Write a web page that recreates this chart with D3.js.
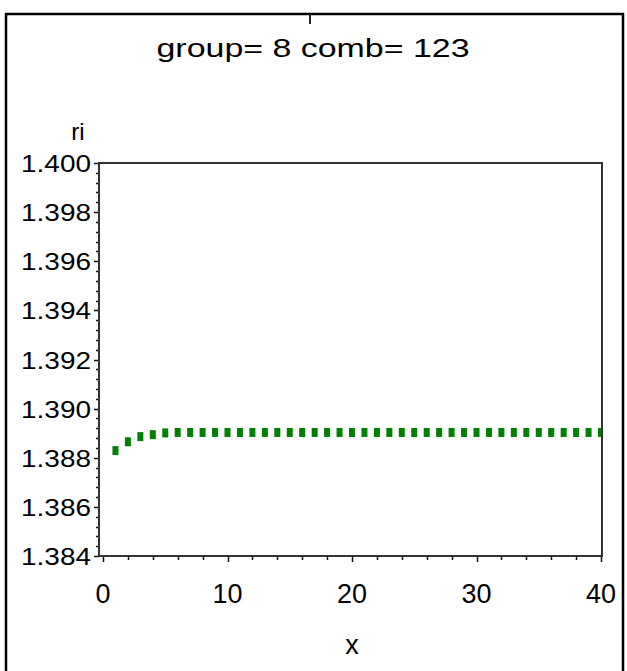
<!DOCTYPE html>
<html>
<head>
<meta charset="utf-8">
<script src="https://cdn.jsdelivr.net/npm/d3@7"></script>
<style>
  html, body { margin: 0; padding: 0; background: #fff; }
  svg { display: block; }
  text { font-family: "Liberation Sans", Arial, sans-serif; fill: #000; }
</style>
</head>
<body>
<svg id="chart" width="627" height="671"></svg>
<script>
// Series: ri against x for group 8, comb 123
const xValues = [1,2,3,4,5,6,7,8,9,10,11,12,13,14,15,16,17,18,19,20,
                 21,22,23,24,25,26,27,28,29,30,31,32,33,34,35,36,37,38,39,40];
const riValues = [1.38829,1.38865,1.38886,1.38894,1.38901,1.38903,1.38903,1.38903,1.38903,1.38903,
                  1.38903,1.38903,1.38903,1.38903,1.38903,1.38903,1.38903,1.38903,1.38903,1.38903,
                  1.38903,1.38903,1.38903,1.38903,1.38903,1.38903,1.38903,1.38903,1.38903,1.38903,
                  1.38903,1.38903,1.38903,1.38903,1.38903,1.38903,1.38903,1.38903,1.38903,1.38903];
const xTicks = [0, 10, 20, 30, 40];
const yTicks = [1.384, 1.386, 1.388, 1.390, 1.392, 1.394, 1.396, 1.398, 1.400];
const titleText = "group= 8  comb= 123";
const xLabel = "x";
const yLabel = "ri";

const svg = d3.select("#chart");

// Outer page frame
svg.append("path")
  .attr("d", "M6,671 V14 H623 V671")
  .attr("fill", "none").attr("stroke", "#000").attr("stroke-width", 2.5);
svg.append("line")
  .attr("x1", 310).attr("x2", 310).attr("y1", 14).attr("y2", 24)
  .attr("stroke", "#222").attr("stroke-width", 2);

// Plot region
const frame = { left: 99, right: 602, top: 163, bottom: 556 };
const x = d3.scaleLinear().domain([0, 40]).range([103, 601]);
const y = d3.scaleLinear().domain([1.384, 1.400]).range([frame.bottom, frame.top]);

// Title and axis labels
svg.append("text").attr("x", 313).attr("y", 57).attr("text-anchor", "middle")
  .attr("font-size", 25).attr("textLength", 313).attr("lengthAdjust", "spacingAndGlyphs")
  .text(titleText);
svg.append("text").attr("x", 78).attr("y", 140).attr("text-anchor", "middle")
  .attr("font-size", 24).text(yLabel);
svg.append("text").attr("x", 352).attr("y", 654).attr("text-anchor", "middle")
  .attr("font-size", 27).text(xLabel);

// Y axis: major ticks every 0.002, four minor ticks between
const yMinor = d3.range(0, 41).map(i => 1.384 + i * 0.0004);
svg.append("g").selectAll("line").data(yMinor).join("line")
  .attr("x1", frame.left).attr("x2", (d, i) => frame.left - (i % 5 === 0 ? 5 : 3))
  .attr("y1", d => Math.round(y(d)) + 0.5).attr("y2", d => Math.round(y(d)) + 0.5)
  .attr("stroke", "#111").attr("stroke-width", 1.5);
svg.append("g").selectAll("text").data(yTicks).join("text")
  .attr("x", 91).attr("y", d => y(d) + 9).attr("text-anchor", "end")
  .attr("font-size", 24).attr("textLength", 70).attr("lengthAdjust", "spacingAndGlyphs")
  .text(d => d3.format(".3f")(d));

// X axis: major ticks every 10, minor ticks between
const xMinor = d3.range(0, 41, 2);
svg.append("g").selectAll("line").data(xMinor).join("line")
  .attr("x1", d => Math.round(x(d)) + 0.5).attr("x2", d => Math.round(x(d)) + 0.5)
  .attr("y1", frame.bottom).attr("y2", d => frame.bottom + (d % 10 === 0 ? 6 : 4))
  .attr("stroke", "#111").attr("stroke-width", 1.5);
svg.append("g").selectAll("text").data(xTicks).join("text")
  .attr("x", d => x(d)).attr("y", 603).attr("text-anchor", "middle")
  .attr("font-size", 27).attr("textLength", d => String(d).length * 15)
  .attr("lengthAdjust", "spacingAndGlyphs")
  .text(d => d);

// Data markers, clipped to the plot frame
svg.append("clipPath").attr("id", "plotClip").append("rect")
  .attr("x", frame.left).attr("y", frame.top)
  .attr("width", frame.right - frame.left).attr("height", frame.bottom - frame.top);
svg.append("g").attr("clip-path", "url(#plotClip)")
  .selectAll("rect").data(xValues).join("rect")
  .attr("x", d => x(d) - 3).attr("width", 6)
  .attr("y", (d, i) => y(riValues[i]) - 4.5).attr("height", 9)
  .attr("fill", "#007f00");

// Plot frame
svg.append("rect")
  .attr("x", frame.left).attr("y", frame.top)
  .attr("width", frame.right - frame.left).attr("height", frame.bottom - frame.top)
  .attr("fill", "none").attr("stroke", "#333").attr("stroke-width", 2);
</script>
</body>
</html>
